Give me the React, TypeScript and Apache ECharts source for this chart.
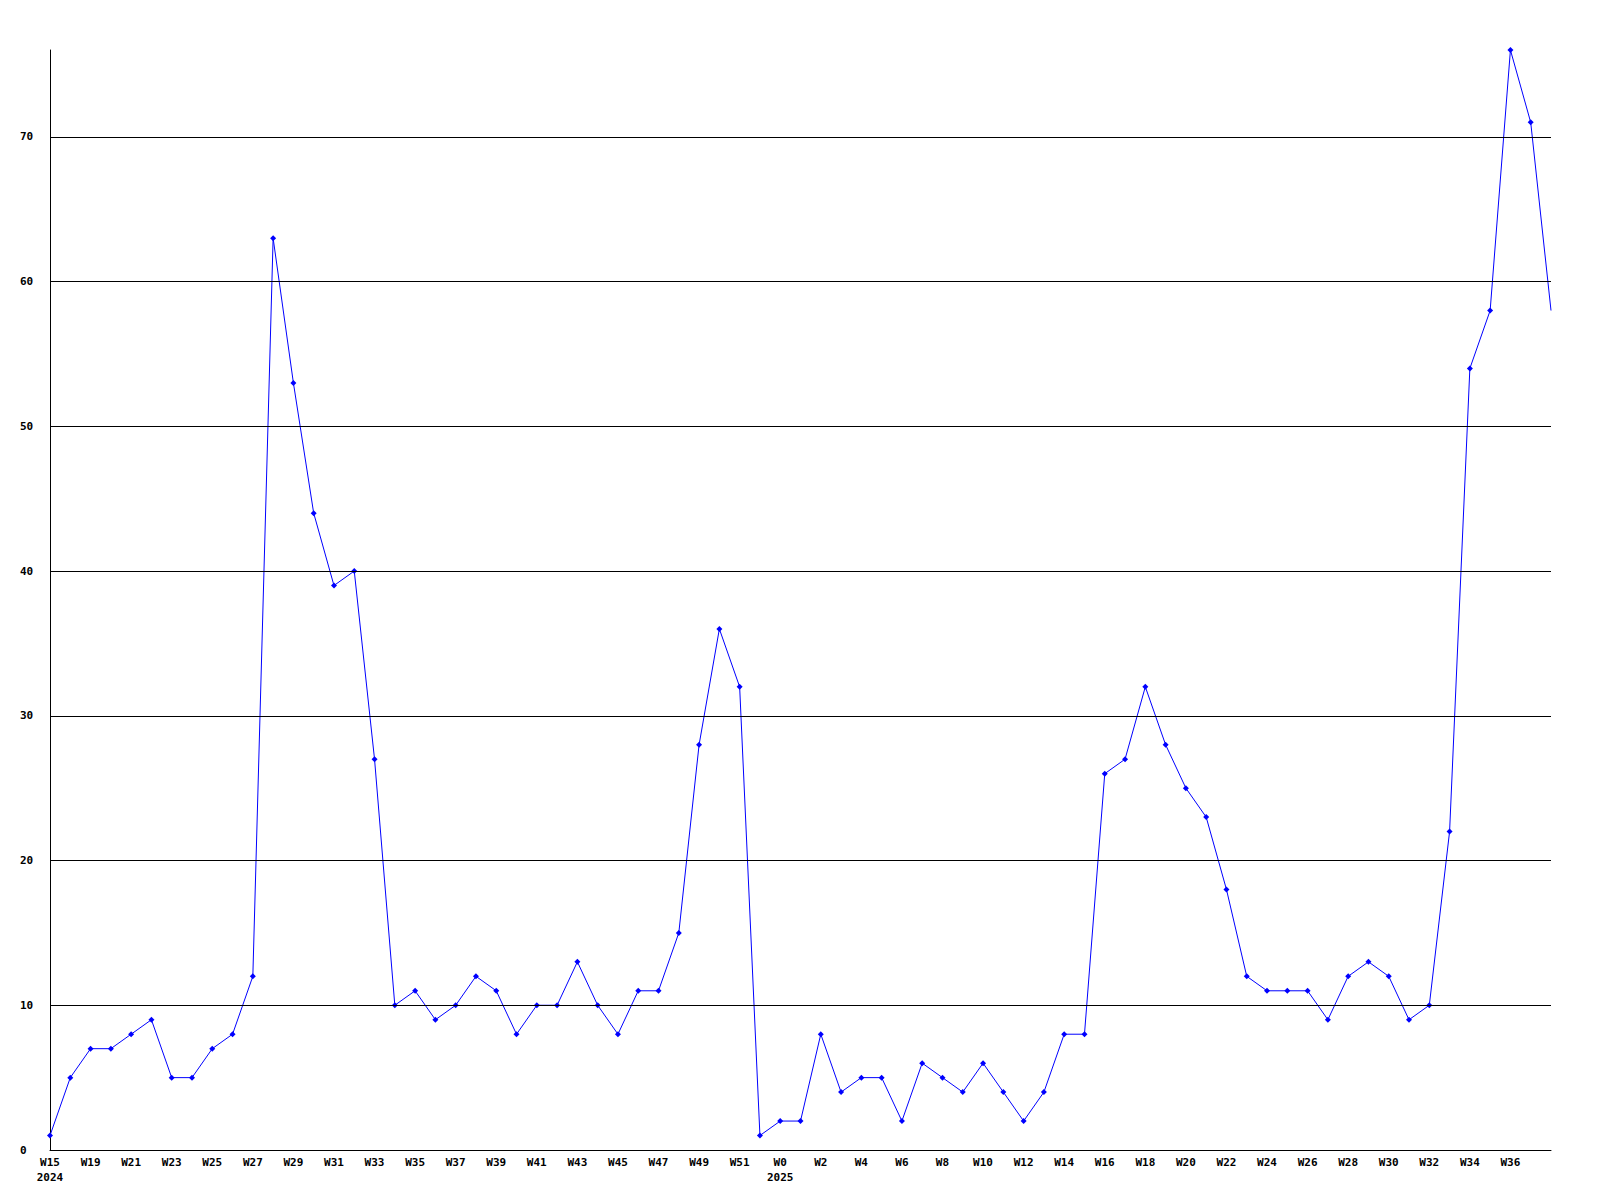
import React, { useEffect, useRef } from "react";
import * as echarts from "echarts";

const weeks: string[] = [
  "W15", "W18", "W19", "W20", "W21", "W22", "W23", "W24", "W25", "W26",
  "W27", "W28", "W29", "W30", "W31", "W32", "W33", "W34", "W35", "W36",
  "W37", "W38", "W39", "W40", "W41", "W42", "W43", "W44", "W45", "W46",
  "W47", "W48", "W49", "W50", "W51", "W52", "W0", "W1", "W2", "W3",
  "W4", "W5", "W6", "W7", "W8", "W9", "W10", "W11", "W12", "W13",
  "W14", "W15", "W16", "W17", "W18", "W19", "W20", "W21", "W22", "W23",
  "W24", "W25", "W26", "W27", "W28", "W29", "W30", "W31", "W32", "W33",
  "W34", "W35", "W36", "W37", "W38",
];

const yearLabels: Record<number, string> = { 0: "2024", 36: "2025" };

const counts: number[] = [
  1, 5, 7, 7, 8, 9, 5, 5, 7, 8,
  12, 63, 53, 44, 39, 40, 27, 10, 11, 9,
  10, 12, 11, 8, 10, 10, 13, 10, 8, 11,
  11, 15, 28, 36, 32, 1, 2, 2, 8, 4,
  5, 5, 2, 6, 5, 4, 6, 4, 2, 4,
  8, 8, 26, 27, 32, 28, 25, 23, 18, 12,
  11, 11, 11, 9, 12, 13, 12, 9, 10, 22,
  54, 58, 76, 71, 58,
];

const gridValues: number[] = [10, 20, 30, 40, 50, 60, 70];
const yMax = 76;

export default function App() {
  const ref = useRef<HTMLDivElement>(null);
  useEffect(() => {
    if (!ref.current) return;
    const chart = echarts.init(ref.current, undefined, { renderer: "svg" });
    const font = "'DejaVu Sans Mono', monospace";
    const last = counts.length - 1;
    const data = counts.map((v, i) => (i === last ? { value: v, symbol: "none" } : v));
    chart.setOption({
      animation: false,
      backgroundColor: "#ffffff",
      grid: { left: 50, right: 49, top: 50, bottom: 50, containLabel: false },
      xAxis: {
        type: "category",
        data: weeks,
        boundaryGap: false,
        axisLine: { show: true, lineStyle: { color: "#000", width: 1 } },
        axisTick: { show: false },
        splitLine: { show: false },
        axisLabel: {
          interval: 1,
          margin: 5,
          color: "#000",
          fontFamily: font,
          fontWeight: "bold",
          fontSize: 11,
          lineHeight: 15,
          align: "center",
          formatter: (val: string, idx: number) => {
            if (idx === last) return "";
            return yearLabels[idx] ? `${val}\n${yearLabels[idx]}` : val;
          },
        },
      },
      yAxis: {
        type: "value",
        min: 0,
        max: yMax,
        interval: 10,
        axisLine: { show: true, lineStyle: { color: "#000", width: 1 } },
        axisTick: { show: false },
        splitLine: { show: false },
        axisLabel: {
          margin: 30,
          align: "left",
          color: "#000",
          fontFamily: font,
          fontWeight: "bold",
          fontSize: 11,
          formatter: (v: number) => (v % 10 === 0 ? String(v) : ""),
        },
      },
      series: [
        {
          type: "line",
          data,
          symbol: "diamond",
          symbolSize: 6,
          itemStyle: { color: "#0000ff" },
          lineStyle: { color: "#0000ff", width: 1 },
          markLine: {
            silent: true,
            symbol: "none",
            label: { show: false },
            lineStyle: { color: "#000", width: 1, type: "solid" },
            data: gridValues.map((v) => ({ yAxis: v })),
          },
        },
      ],
    });
    return () => chart.dispose();
  }, []);
  return (
    <div
      ref={ref}
      style={{ position: "absolute", left: 0, top: 0, width: 1600, height: 1200 }}
    />
  );
}
